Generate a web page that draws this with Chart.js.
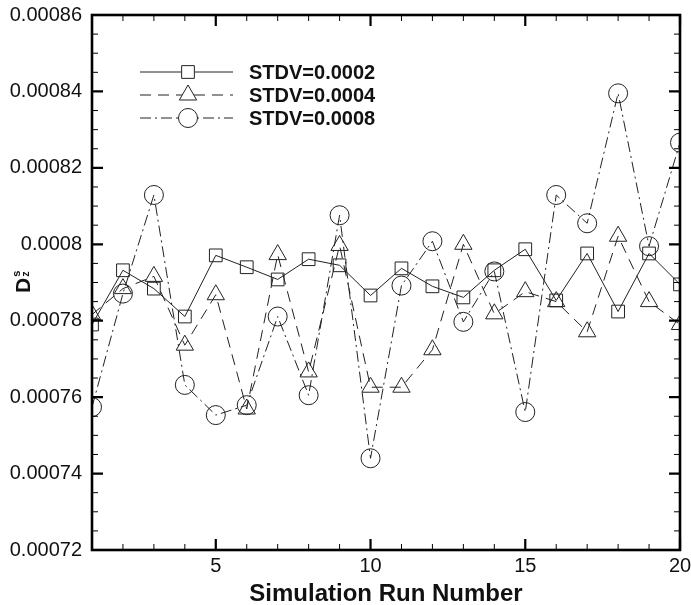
<!DOCTYPE html>
<html>
<head>
<meta charset="utf-8">
<script src="https://cdn.jsdelivr.net/npm/chart.js@4/dist/chart.umd.min.js"></script>
<style>
html,body{margin:0;padding:0;background:#fff;}
canvas{display:block;}
</style>
</head>
<body>
<canvas id="c" width="691" height="605"></canvas>
<script>
// ---- data ----
const runs = [1,2,3,4,5,6,7,8,9,10,11,12,13,14,15,16,17,18,19,20];
const stdv0002 = [0.0007790,0.0007932,0.0007884,0.0007811,0.0007971,0.0007940,0.0007908,0.0007961,0.0007945,0.0007866,0.0007937,0.0007890,0.0007861,0.0007932,0.0007987,0.0007853,0.0007976,0.0007824,0.0007976,0.0007895];
const stdv0004 = [0.0007816,0.0007884,0.0007916,0.0007736,0.0007868,0.0007569,0.0007973,0.0007666,0.0007997,0.0007626,0.0007626,0.0007724,0.0008000,0.0007818,0.0007876,0.0007850,0.0007771,0.0008021,0.0007850,0.0007790];
const stdv0008 = [0.0007574,0.0007871,0.0008129,0.0007632,0.0007553,0.0007579,0.0007811,0.0007605,0.0008076,0.0007440,0.0007892,0.0008008,0.0007797,0.0007929,0.0007561,0.0008129,0.0008055,0.0008395,0.0007995,0.0008266];
const seriesNames = ['STDV=0.0002','STDV=0.0004','STDV=0.0008'];
const xMajorTicks = [5,10,15,20];
const yTickValues = [0.00072,0.00074,0.00076,0.00078,0.0008,0.00082,0.00084,0.00086];
const xTitle = 'Simulation Run Number';

const FONT = '"Liberation Sans", Arial, Helvetica, sans-serif';
const INK = '#111';

function pts(arr){ return runs.map((r,i)=>({x:r,y:arr[i]})); }

const styles = [
  {pointStyle:'rect', radius:9, dash:[]},
  {pointStyle:'triangle', radius:10, dash:[11,7]},
  {pointStyle:'circle', radius:9.5, dash:[11,4,2,4]}
];
const allSeries = [stdv0002, stdv0004, stdv0008];

const datasets = allSeries.map((s,i)=>({
  label: seriesNames[i],
  data: pts(s),
  borderColor: '#222',
  borderWidth: 1,
  borderDash: styles[i].dash,
  tension: 0,
  fill: false,
  pointStyle: styles[i].pointStyle,
  pointRadius: styles[i].radius,
  pointHoverRadius: styles[i].radius,
  pointBorderColor: '#222',
  pointBorderWidth: 1,
  pointBackgroundColor: 'rgba(0,0,0,0)'
}));

function zeroPad(scale){
  scale.paddingLeft = 0; scale.paddingRight = 0;
  scale.paddingTop = 0; scale.paddingBottom = 0;
}

const framePlugin = {
  id: 'frame',
  beforeDraw(chart){
    const ctx = chart.ctx;
    ctx.save();
    ctx.fillStyle = '#fff';
    ctx.fillRect(0,0,chart.width,chart.height);
    ctx.restore();
  },
  afterDraw(chart){
    const ctx = chart.ctx;
    const a = chart.chartArea;
    const xs = chart.scales.x, ys = chart.scales.y;
    ctx.save();
    ctx.strokeStyle = '#000';
    // ticks x
    for (let v = xs.min; v <= xs.max; v++) {
      const px = xs.getPixelForValue(v);
      const major = xMajorTicks.includes(v);
      const len = major ? 11 : 6;
      ctx.lineWidth = major ? 2.2 : 1;
      ctx.beginPath();
      ctx.moveTo(px, a.bottom); ctx.lineTo(px, a.bottom - len);
      ctx.moveTo(px, a.top); ctx.lineTo(px, a.top + len);
      ctx.stroke();
    }
    // ticks y
    const step = 0.000005;
    const n = Math.round((ys.max - ys.min)/step);
    for (let k = 0; k <= n; k++) {
      const v = ys.min + k*step;
      const py = ys.getPixelForValue(v);
      const major = (k % 4) === 0;
      const len = major ? 11 : 6;
      ctx.lineWidth = major ? 2.2 : 1;
      ctx.beginPath();
      ctx.moveTo(a.left, py); ctx.lineTo(a.left + len, py);
      ctx.moveTo(a.right, py); ctx.lineTo(a.right - len, py);
      ctx.stroke();
    }
    // frame
    ctx.lineWidth = 2.6;
    ctx.strokeRect(a.left, a.top, a.right - a.left, a.bottom - a.top);

    // x title
    ctx.fillStyle = INK;
    ctx.font = 'bold 24px ' + FONT;
    ctx.textAlign = 'center';
    ctx.textBaseline = 'middle';
    ctx.fillText(xTitle, (a.left + a.right)/2, 594);

    // y title: D with superscript s and subscript z
    ctx.save();
    ctx.translate(30, 293);
    ctx.rotate(-Math.PI/2);
    ctx.textAlign = 'left';
    ctx.textBaseline = 'alphabetic';
    ctx.font = 'bold 21px ' + FONT;
    ctx.fillText('D', 0, 0);
    const dw = ctx.measureText('D').width;
    ctx.font = 'bold 11px ' + FONT;
    ctx.fillText('s', dw + 1, -10);
    ctx.fillText('z', dw + 1, -1);
    ctx.restore();

    // legend
    const ly = [72, 95, 118];
    const x0 = 140, x1 = 233, mx = 188;
    for (let i = 0; i < 3; i++) {
      ctx.save();
      ctx.strokeStyle = '#222';
      ctx.lineWidth = 1;
      ctx.setLineDash(styles[i].dash);
      ctx.beginPath();
      ctx.moveTo(x0, ly[i]); ctx.lineTo(x1, ly[i]);
      ctx.stroke();
      ctx.setLineDash([]);
      ctx.fillStyle = '#fff';
      ctx.beginPath();
      const r = styles[i].radius;
      if (styles[i].pointStyle === 'rect') {
        const s = Math.SQRT1_2 * r;
        ctx.rect(mx - s, ly[i] - s, 2*s, 2*s);
      } else if (styles[i].pointStyle === 'triangle') {
        ctx.moveTo(mx, ly[i] - r);
        ctx.lineTo(mx + Math.sin(2*Math.PI/3)*r, ly[i] + r/2);
        ctx.lineTo(mx - Math.sin(2*Math.PI/3)*r, ly[i] + r/2);
        ctx.closePath();
      } else {
        ctx.arc(mx, ly[i], r, 0, Math.PI*2);
      }
      ctx.fill();
      ctx.stroke();
      ctx.restore();
      ctx.fillStyle = INK;
      ctx.font = 'bold 20px ' + FONT;
      ctx.textAlign = 'left';
      ctx.textBaseline = 'middle';
      ctx.fillText(seriesNames[i], 249, ly[i] + 1);
    }
    ctx.restore();
  }
};

new Chart(document.getElementById('c'), {
  type: 'line',
  data: { datasets },
  options: {
    responsive: false,
    animation: false,
    events: [],
    layout: { padding: { left: 0, right: 11, top: 15, bottom: 0 } },
    plugins: { legend: { display: false }, tooltip: { enabled: false } },
    scales: {
      x: {
        type: 'linear',
        min: 1, max: 20,
        afterBuildTicks(scale){ scale.ticks = xMajorTicks.map(v=>({value:v})); },
        ticks: {
          autoSkip: false, maxRotation: 0, padding: 4,
          color: INK, font: { family: FONT, size: 20 },
          callback: v => String(v)
        },
        grid: { display: false, drawTicks: false },
        border: { display: false },
        afterFit(scale){ scale.height = 55; zeroPad(scale); }
      },
      y: {
        type: 'linear',
        min: 0.00072, max: 0.00086,
        afterBuildTicks(scale){ scale.ticks = yTickValues.map(v=>({value:v})); },
        ticks: {
          autoSkip: false, padding: 10,
          color: INK, font: { family: FONT, size: 20 },
          callback: v => String(parseFloat(Number(v).toFixed(5)))
        },
        grid: { display: false, drawTicks: false },
        border: { display: false },
        afterFit(scale){ scale.width = 92; zeroPad(scale); }
      }
    }
  },
  plugins: [framePlugin]
});
</script>
</body>
</html>
